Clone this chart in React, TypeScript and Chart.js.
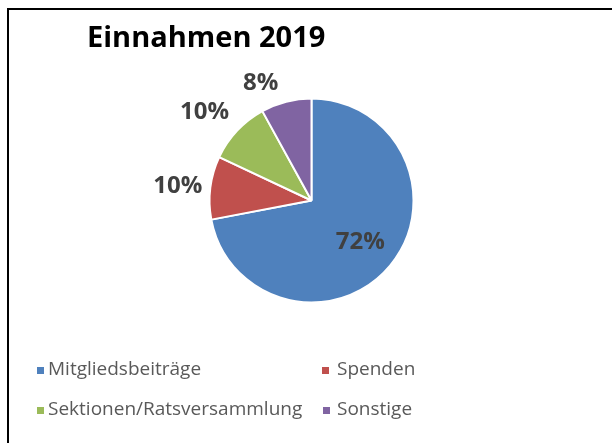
import React, { useEffect, useRef } from "react";
import { Chart, registerables } from "chart.js";

Chart.register(...registerables);

const chartTitle = "Einnahmen 2019";
const categories = ["Mitgliedsbeiträge", "Spenden", "Sektionen/Ratsversammlung", "Sonstige"];
const values = [72, 10, 10, 8];
const colors = ["#4F81BD", "#C0504D", "#9BBB59", "#8064A2"];

const legendPos = [
  { sq: 37, tx: 48, top: 367 },
  { sq: 322, tx: 337, top: 367 },
  { sq: 37, tx: 48, top: 407 },
  { sq: 323, tx: 337, top: 407 },
];

const LABEL_FONT_SIZE = 24;

const sliceLabels = {
  id: "sliceLabels",
  afterDatasetsDraw(chart: any) {
    const ctx = chart.ctx;
    const meta = chart.getDatasetMeta(0);
    const data = chart.data.datasets[0].data as number[];
    const total = data.reduce((a, b) => a + b, 0);
    ctx.save();
    ctx.font = `bold ${LABEL_FONT_SIZE}px 'Open Sans'`;
    ctx.fillStyle = "#404040";
    ctx.textAlign = "center";
    ctx.textBaseline = "alphabetic";
    const capH = LABEL_FONT_SIZE * 0.714;
    const f = (a: number) => Math.max(0, Math.min(1, (a - 0.1) / 0.15));
    meta.data.forEach((arc: any, i: number) => {
      const p = arc.getProps(["x", "y", "startAngle", "endAngle", "outerRadius"], true);
      const mid = (p.startAngle + p.endAngle) / 2;
      const share = data[i] / total;
      const text = Math.round(share * 100) + "%";
      const dx = Math.cos(mid);
      const dy = Math.sin(mid);
      let cx: number;
      let cy: number;
      if (share > 0.5) {
        cx = p.x + dx * p.outerRadius * 0.62;
        cy = p.y + dy * p.outerRadius * 0.62;
      } else {
        const w = ctx.measureText(text).width;
        const ex = p.x + dx * p.outerRadius;
        const ey = p.y + dy * p.outerRadius;
        cx = ex + Math.sign(dx) * (w / 2 + 8) * f(Math.abs(dx));
        cy = ey + Math.sign(dy) * (capH / 2 + 12) * f(Math.abs(dy));
      }
      ctx.fillText(text, cx, cy + capH / 2);
    });
    ctx.restore();
  },
};

export default function App() {
  const ref = useRef<HTMLCanvasElement | null>(null);
  useEffect(() => {
    if (!ref.current) return;
    const chart = new Chart(ref.current, {
      type: "pie",
      data: {
        labels: categories,
        datasets: [
          {
            data: values,
            backgroundColor: colors,
            borderColor: "#ffffff",
            borderWidth: 2,
          },
        ],
      },
      options: {
        animation: false,
        responsive: false,
        layout: { padding: { left: 208.5, top: 97.5, right: 197.5, bottom: 139.5 } },
        plugins: {
          legend: { display: false },
          title: { display: false },
          tooltip: { enabled: false },
        },
      },
      plugins: [sliceLabels],
    });
    return () => chart.destroy();
  }, []);

  return (
    <div>
      <div
        style={{
          position: "absolute",
          left: 7,
          top: 8,
          width: 605,
          height: 435,
          borderTop: "2px solid #000",
          borderLeft: "2px solid #000",
          boxSizing: "border-box",
        }}
      />
      <canvas
        ref={ref}
        width={612}
        height={443}
        style={{ position: "absolute", left: 0, top: 0, width: 612, height: 443 }}
      />
      <div
        style={{
          position: "absolute",
          left: 87,
          top: 21,
          fontFamily: "'Open Sans', sans-serif",
          fontWeight: 700,
          fontSize: 29,
          lineHeight: "29px",
          color: "#000",
          whiteSpace: "nowrap",
        }}
      >
        {chartTitle}
      </div>
      {categories.map((c, i) => (
        <React.Fragment key={c}>
          <div
            style={{
              position: "absolute",
              left: legendPos[i].sq,
              top: legendPos[i].top,
              width: 7,
              height: 7,
              background: colors[i],
            }}
          />
          <div
            style={{
              position: "absolute",
              left: legendPos[i].tx,
              top: legendPos[i].top - 9,
              fontFamily: "'Open Sans', sans-serif",
              fontSize: 19,
              lineHeight: "20px",
              color: "#595959",
              whiteSpace: "nowrap",
            }}
          >
            {c}
          </div>
        </React.Fragment>
      ))}
    </div>
  );
}
